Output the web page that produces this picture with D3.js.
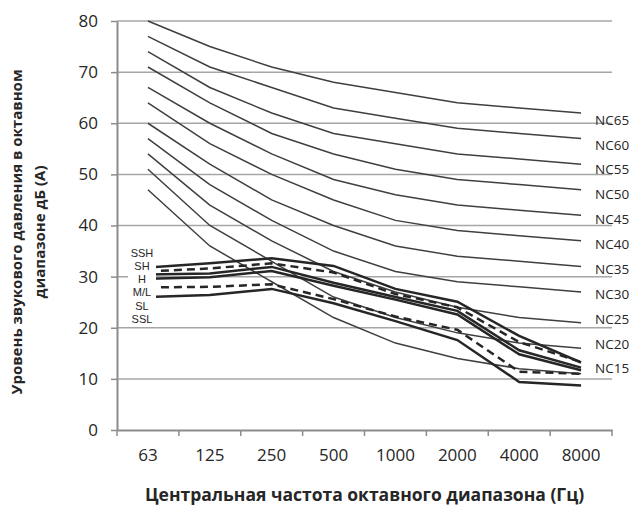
<!DOCTYPE html>
<html>
<head>
<meta charset="utf-8">
<script src="https://cdn.jsdelivr.net/npm/d3@7"></script>
<style>
  body { margin: 0; background: #fff; }
  svg { display: block; font-family: "Open Sans", sans-serif; }
</style>
</head>
<body>
<svg id="chart" width="633" height="507"></svg>
<script>
// ============================================================================
// NC curves with room criteria bundle (SSH ... SSL)
// ============================================================================

const freqs = ["63", "125", "250", "500", "1000", "2000", "4000", "8000"];
const yTicks = [0, 10, 20, 30, 40, 50, 60, 70, 80];

const ncNames = ["NC65", "NC60", "NC55", "NC50", "NC45", "NC40", "NC35", "NC30", "NC25", "NC20", "NC15"];
const ncValues = [
    [80, 75, 71, 68, 66, 64, 63, 62],
    [77, 71, 67, 63, 61, 59, 58, 57],
    [74, 67, 62, 58, 56, 54, 53, 52],
    [71, 64, 58, 54, 51, 49, 48, 47],
    [67, 60, 54, 49, 46, 44, 43, 42],
    [64, 56, 50, 45, 41, 39, 38, 37],
    [60, 52, 45, 40, 36, 34, 33, 32],
    [57, 48, 41, 35, 31, 29, 28, 27],
    [54, 44, 37, 31, 27, 24, 22, 21],
    [51, 40, 33, 26, 22, 19, 17, 16],
    [47, 36, 29, 22, 17, 14, 12, 11]
];

const roomNames = ["SSH", "SH", "H", "M/L", "SL", "SSL"];
const roomValues = [
    [31.8, 32.6, 33.6, 32.1, 27.6, 25.1, 18.4, 13.2],
    [31.0, 31.6, 32.6, 30.8, 26.6, 24.0, 17.2, 13.3],
    [30.4, 30.6, 31.9, 28.8, 26.0, 23.3, 15.6, 12.2],
    [29.6, 29.9, 31.1, 28.2, 25.5, 22.6, 14.8, 11.7],
    [27.9, 28.0, 28.5, 25.6, 22.2, 19.6, 11.4, 11.0],
    [26.0, 26.4, 27.6, 24.8, 21.3, 17.6, 9.4, 8.7]
];
const roomDashed = [false, true, false, false, true, false];

const xTitle = "Центральная частота октавного диапазона (Гц)";
const yTitle = ["Уровень звукового давления в октавном", "диапазоне дБ (А)"];

// ---------------------------------------------------------------------------

const svg = d3.select("#chart");
const plot = { left: 117, right: 612, top: 21, bottom: 430 };

const x = d3.scaleBand().domain(freqs).range([plot.left, plot.right]);
const y = d3.scaleLinear().domain([0, 80]).range([plot.bottom, plot.top]);
const cx = d => x(d) + x.bandwidth() / 2;

const line = d3.line()
    .x((d, i) => cx(freqs[i]))
    .y(d => y(d));

// Gridlines
svg.append("g")
    .selectAll("line")
    .data(yTicks.filter(d => d > 0))
    .enter()
    .append("line")
    .attr("x1", plot.left)
    .attr("x2", plot.right)
    .attr("y1", d => y(d))
    .attr("y2", d => y(d))
    .attr("stroke", "#a6a6a6")
    .attr("stroke-width", 1.5);

// NC curves
svg.append("g")
    .selectAll("path")
    .data(ncValues)
    .enter()
    .append("path")
    .attr("d", line)
    .attr("fill", "none")
    .attr("stroke", "#3f3f3f")
    .attr("stroke-width", 1.5);

// Room criteria bundle
svg.append("g")
    .selectAll("path")
    .data(roomValues)
    .enter()
    .append("path")
    .attr("d", line)
    .attr("fill", "none")
    .attr("stroke", "#262626")
    .attr("stroke-width", 2.5)
    .attr("stroke-dasharray", (d, i) => roomDashed[i] ? "8,5" : null);

// NC labels, stacked evenly from the top curve end to the bottom one
const lastIdx = freqs.length - 1;
const ncLabelY = d3.scalePoint()
    .domain(ncNames)
    .range([y(ncValues[0][lastIdx]) + 7, y(ncValues[ncValues.length - 1][lastIdx]) - 5]);

svg.append("g")
    .selectAll("text")
    .data(ncNames)
    .enter()
    .append("text")
    .attr("x", 595)
    .attr("y", d => ncLabelY(d))
    .attr("dy", "0.35em")
    .style("font-size", "13.5px")
    .style("fill", "#262626")
    .text(d => d);

// Room labels box at the left end of the bundle
const roomLabelY = d3.scalePoint()
    .domain(roomNames)
    .range([253, 319]);

svg.append("rect")
    .attr("x", 128)
    .attr("y", 245)
    .attr("width", 28)
    .attr("height", 81)
    .attr("fill", "#fff");

svg.append("g")
    .selectAll("text")
    .data(roomNames)
    .enter()
    .append("text")
    .attr("x", 142)
    .attr("y", d => roomLabelY(d))
    .attr("dy", "0.35em")
    .attr("text-anchor", "middle")
    .style("font-family", "Liberation Sans, sans-serif")
    .style("font-size", "11px")
    .style("fill", "#262626")
    .text(d => d);

// Y axis
const yAxis = svg.append("g")
    .attr("transform", `translate(${plot.left},0)`)
    .call(d3.axisLeft(y).tickValues(yTicks).tickSize(6).tickPadding(13).tickSizeOuter(0));
yAxis.select(".domain").attr("stroke", "#8c8c8c").attr("stroke-width", 2);
yAxis.selectAll(".tick line").attr("stroke", "#8c8c8c").attr("stroke-width", 1.5);
yAxis.selectAll("text")
    .style("font-family", "Open Sans, sans-serif")
    .style("font-size", "17px")
    .style("fill", "#262626");

// X axis (labels at band centres, ticks at band edges)
const xAxis = svg.append("g")
    .attr("transform", `translate(0,${plot.bottom})`)
    .call(d3.axisBottom(x).tickSize(0).tickPadding(19).tickSizeOuter(0));
xAxis.select(".domain").attr("stroke", "#8c8c8c").attr("stroke-width", 2);
xAxis.selectAll("text")
    .style("font-family", "Open Sans, sans-serif")
    .style("font-size", "17px")
    .style("fill", "#262626");

xAxis.selectAll(".edge")
    .data(freqs.map(d => x(d)).concat([plot.right]))
    .enter()
    .append("line")
    .attr("x1", d => d)
    .attr("x2", d => d)
    .attr("y1", 0)
    .attr("y2", 6)
    .attr("stroke", "#8c8c8c")
    .attr("stroke-width", 1.5);

// Axis titles
svg.append("text")
    .attr("x", (plot.left + plot.right) / 2)
    .attr("y", 501)
    .attr("text-anchor", "middle")
    .style("font-size", "17.5px")
    .style("font-weight", "bold")
    .style("fill", "#262626")
    .text(xTitle);

svg.append("g")
    .attr("transform", "translate(0,232) rotate(-90)")
    .selectAll("text")
    .data(yTitle)
    .enter()
    .append("text")
    .attr("x", 0)
    .attr("y", (d, i) => 22 + i * 23)
    .attr("text-anchor", "middle")
    .style("font-size", "15px")
    .style("font-weight", "bold")
    .style("fill", "#262626")
    .text(d => d);
</script>
</body>
</html>
